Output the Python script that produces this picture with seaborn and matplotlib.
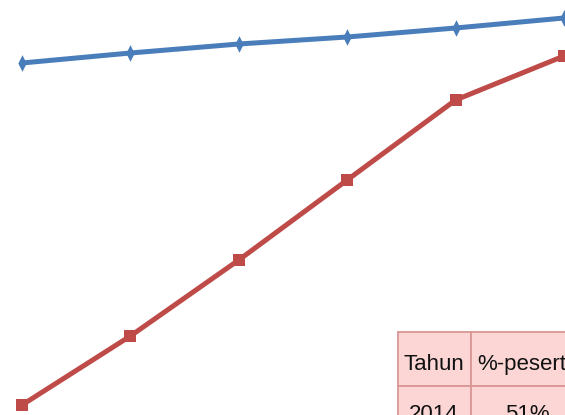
import matplotlib
matplotlib.use("Agg")
import matplotlib.pyplot as plt
from matplotlib.patches import Rectangle
import pandas as pd
import seaborn as sns

# Series values per year
years = ["2014", "2015", "2016", "2017", "2018", "2019"]
series_top = [88.0, 90.5, 92.75, 94.5, 96.75, 99.25]
series_bottom = [2.5, 19.75, 38.75, 58.75, 78.75, 89.75]

# Table contents
table_header = ["Tahun", "%-peserta"]
table_row = ["2014", "51%"]

sns.set_theme(style="white")
plt.rcParams["font.family"] = ["Liberation Sans Narrow", "Liberation Sans", "DejaVu Sans"]

W, H = 565, 415
fig = plt.figure(figsize=(W / 100, H / 100), dpi=100)
ax = fig.add_axes([0, 0, 1, 1])

df = pd.DataFrame({
    "x": list(range(len(years))),
    "top": series_top,
    "bottom": series_bottom,
})

diamond = [(0, 1), (0.5, 0), (0, -1), (-0.5, 0), (0, 1)]
sns.lineplot(data=df, x="x", y="top", ax=ax, color="#4a7ebb", lw=3.6,
             marker=diamond, markersize=12, markeredgewidth=0,
             markerfacecolor="#4a7ebb")
sns.lineplot(data=df, x="x", y="bottom", ax=ax, color="#be4b48", lw=3.6,
             marker="s", markersize=8.5, markeredgewidth=0,
             markerfacecolor="#be4b48")

px_per_unit = (564 - 22) / 5
ax.set_xlim(-22 / px_per_unit, (W - 22) / px_per_unit)
ax.set_ylim(0, H / 4)
ax.set_axis_off()

# Data table in the lower right corner (pixel coordinates, origin top-left)
def px_rect(x0, y0, x1, y1):
    return Rectangle((x0 / W, 1 - y1 / H), (x1 - x0) / W, (y1 - y0) / H,
                     transform=fig.transFigure, facecolor="#fbd6d5",
                     edgecolor="#d99694", lw=1.3, zorder=5)

col_edges = [398, 471, 580]
row_edges = [332, 386, 440]
for r in range(2):
    for c in range(2):
        fig.add_artist(px_rect(col_edges[c], row_edges[r],
                               col_edges[c + 1], row_edges[r + 1]))

def px_text(x, y, s, ha, va):
    fig.text(x / W, 1 - y / H, s, ha=ha, va=va, fontsize=16,
             color="#111111", zorder=6)

px_text(434, 364, table_header[0], "center", "center")
px_text(477, 364, table_header[1], "left", "center")
px_text(434, 404, table_row[0], "center", "top")
px_text(527, 404, table_row[1], "center", "top")

fig.savefig("out.png", dpi=100)
